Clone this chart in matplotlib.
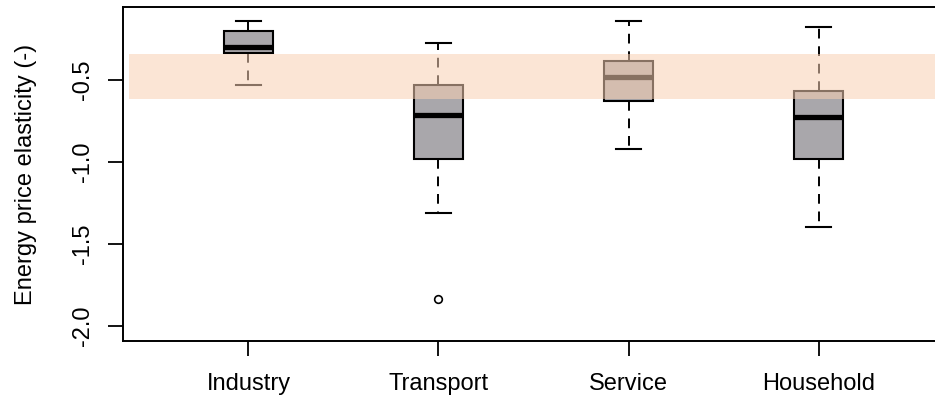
import matplotlib.pyplot as plt

plt.rcParams["font.family"] = ["Liberation Sans", "DejaVu Sans"]

# five-number summaries per sector
sectors = ["Industry", "Transport", "Service", "Household"]
whisker_high = [-0.14, -0.275, -0.14, -0.175]
q3 = [-0.20, -0.53, -0.384, -0.567]
median = [-0.30, -0.713, -0.482, -0.726]
q1 = [-0.335, -0.984, -0.628, -0.984]
whisker_low = [-0.53, -1.313, -0.923, -1.398]
outliers = [[], [-1.837], [], []]

# literature range of elasticities
range_top = -0.341
range_bottom = -0.618

stats = []
for i, name in enumerate(sectors):
    stats.append({
        "label": name,
        "whishi": whisker_high[i],
        "q3": q3[i],
        "med": median[i],
        "q1": q1[i],
        "whislo": whisker_low[i],
        "fliers": outliers[i],
    })

fig = plt.figure(figsize=(9.35, 4.0), dpi=100)
ax = fig.add_axes([0.1316, 0.1475, 0.878, 0.835])

positions = [1, 2, 3, 4]
ax.bxp(
    stats,
    positions=positions,
    widths=0.26,
    patch_artist=True,
    boxprops=dict(facecolor="#a9a7ab", edgecolor="black", linewidth=1.5),
    medianprops=dict(color="black", linewidth=3.8, solid_capstyle="butt"),
    whiskerprops=dict(color="black", linewidth=1.4, linestyle=(0, (5, 4))),
    capprops=dict(color="black", linewidth=1.5),
    capwidths=0.136,
    flierprops=dict(marker="o", markersize=5.5, markerfacecolor="none",
                    markeredgecolor="black", markeredgewidth=1.2),
    zorder=2,
)

# shaded band drawn over the boxes
ax.axhspan(range_bottom, range_top, xmin=0.007, xmax=0.993,
           facecolor="#f8d0b4", alpha=0.55, edgecolor="none", zorder=5)

ax.set_xlim(0.34, 4.66)
ax.set_ylim(-2.09, -0.055)
ax.set_xticks(positions)
ax.set_xticklabels(sectors)
ax.set_yticks([-2.0, -1.5, -1.0, -0.5])
ax.set_yticklabels(["-2.0", "-1.5", "-1.0", "-0.5"], rotation=90, va="center")
ax.tick_params(axis="both", labelsize=17, length=11, width=1.3, color="black")
ax.tick_params(axis="x", pad=12)
ax.tick_params(axis="y", pad=10)
ax.set_ylabel("Energy price elasticity (-)", fontsize=17, labelpad=25)

for spine in ax.spines.values():
    spine.set_linewidth(1.4)

fig.savefig("out.png", dpi=100)
